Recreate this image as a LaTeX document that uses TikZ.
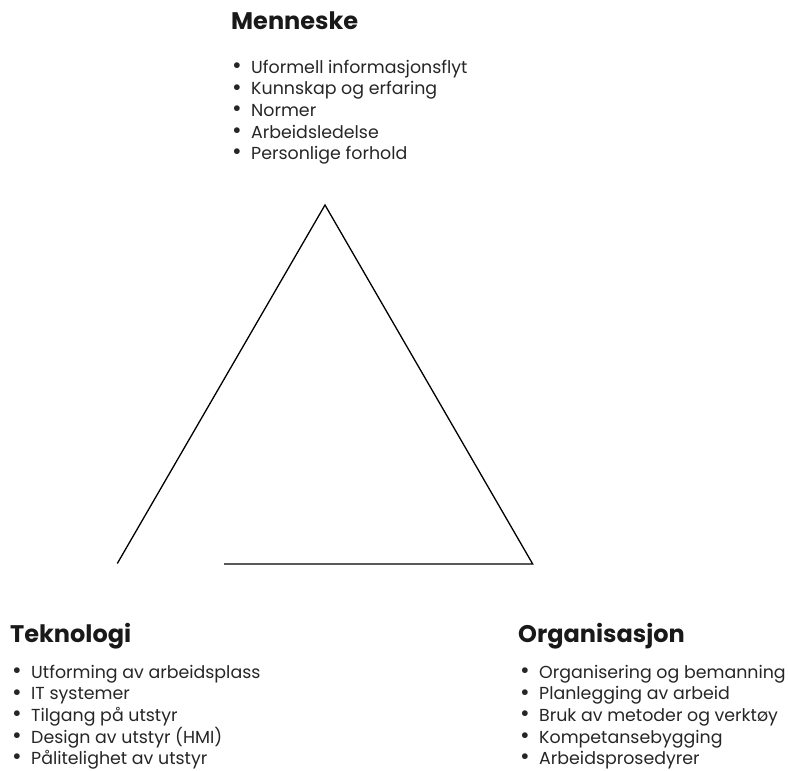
\documentclass[tikz,border=0pt]{standalone}
\usepackage{fontspec}
\setmainfont{Poppins}
\begin{document}
\begin{tikzpicture}[x=1pt,y=-1pt,
  heading/.style={anchor=base west,inner sep=0pt,font=\fontsize{24}{28}\selectfont\bfseries,text=black!90},
  itemlist/.style={anchor=north west,inner sep=0pt,align=left,font=\fontsize{17.4}{21.6}\selectfont,text=black!85},
  edge/.style={line width=1.3pt,line cap=butt}]
\useasboundingbox (0,0) rectangle (788,771);
\newcommand{\bl}{\makebox[19pt][l]{\raisebox{-0.3pt}{\scalebox{1.35}{•}}}}
\newcommand{\topstrut}{\rule{0pt}{14pt}}
% headings
\node[heading] (hum) at (231,30) {Menneske};
\node[heading] (tek) at (10,642) {Teknologi};
\node[heading] (org) at (518,642) {Organisasjon};
% bullet lists (top of each node lies 14pt above its first baseline)
\node[itemlist] (humlist) at (232,59) {\topstrut\bl Uformell informasjonsflyt\\
  \bl Kunnskap og erfaring\\ \bl Normer\\ \bl Arbeidsledelse\\ \bl Personlige forhold};
\node[itemlist] (teklist) at (12,664) {\topstrut\bl Utforming av arbeidsplass\\
  \bl IT systemer\\ \bl Tilgang på utstyr\\ \bl Design av utstyr (HMI)\\ \bl Pålitelighet av utstyr};
\node[itemlist] (orglist) at (520,664) {\topstrut\bl Organisering og bemanning\\
  \bl Planlegging av arbeid\\ \bl Bruk av metoder og verktøy\\ \bl Kompetansebygging\\ \bl Arbeidsprosedyrer};
% triangle with a gap in the lower left corner
\coordinate (apex) at (325,205);
\coordinate (leftend) at (117.3,563.5);
\coordinate (basestart) at (224,564);
\coordinate (right) at (532.7,564);
\draw[edge] (leftend) -- (apex) -- (right) -- (basestart);
\end{tikzpicture}
\end{document}
